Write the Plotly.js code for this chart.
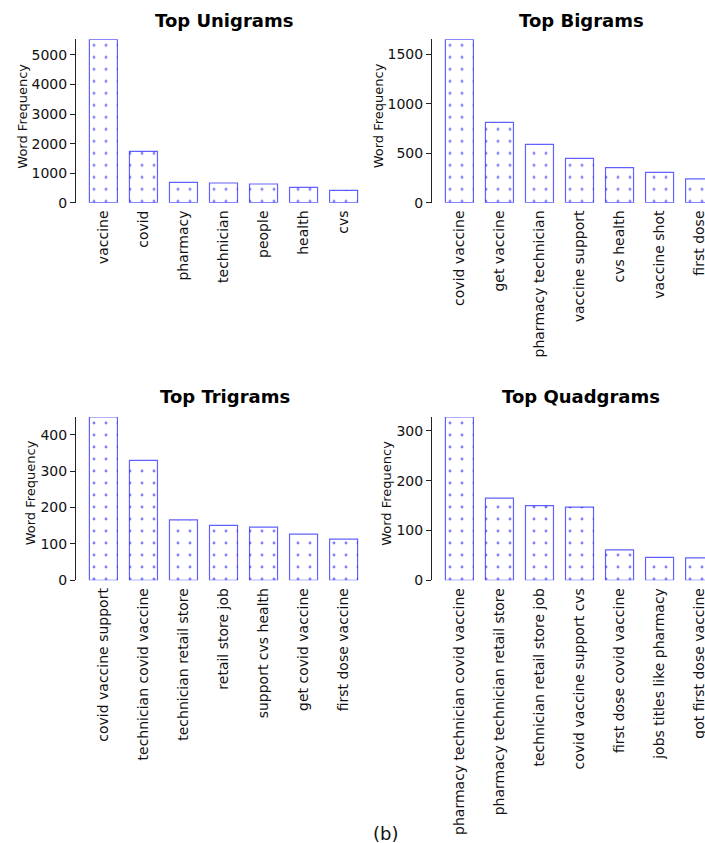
<!DOCTYPE html>
<html>
<head>
<meta charset="utf-8">
<script src="https://cdn.plot.ly/plotly-3.0.1.min.js"></script>
<style>html,body{margin:0;padding:0;overflow:hidden;background:#fff;}#chart{width:705px;height:843px;}</style>
</head>
<body>
<div id="chart"></div>
<script>
// ---- data ----
const uniLabels = ['vaccine','covid','pharmacy','technician','people','health','cvs'];
const uniValues = [5531,1740,690,667,633,521,420];
const biLabels = ['covid vaccine','get vaccine','pharmacy technician','vaccine support','cvs health','vaccine shot','first dose'];
const biValues = [1652,813,590,449,354,307,240];
const triLabels = ['covid vaccine support','technician covid vaccine','technician retail store','retail store job','support cvs health','get covid vaccine','first dose vaccine'];
const triValues = [449,330,166,151,146,127,113];
const quadLabels = ['pharmacy technician covid vaccine','pharmacy technician retail store','technician retail store job','covid vaccine support cvs','first dose covid vaccine','jobs titles like pharmacy','got first dose vaccine'];
const quadValues = [328,165,150,147,61,46,45];
const titles = ['Top Unigrams','Top Bigrams','Top Trigrams','Top Quadgrams'];
const yLabel = 'Word Frequency';
const caption = '(b)';

// ---- styling ----
const W = 705, H = 843;
const FONT = 'DejaVu Sans';
const edge = 'rgba(0,0,255,0.62)';
function barTrace(x, y, xa, ya) {
  return {
    type: 'bar', x: x, y: y, xaxis: xa, yaxis: ya, width: 0.7,
    marker: {
      color: 'white',
      line: {color: edge, width: 1.2},
      pattern: {shape: '.', size: 12, solidity: 0.045, fgcolor: 'rgba(40,40,255,0.6)', bgcolor: 'white', fillmode: 'replace'}
    },
    hoverinfo: 'x+y', showlegend: false
  };
}
const data = [
  barTrace(uniLabels, uniValues, 'x', 'y'),
  barTrace(biLabels, biValues, 'x2', 'y2'),
  barTrace(triLabels, triValues, 'x3', 'y3'),
  barTrace(quadLabels, quadValues, 'x4', 'y4')
];
const pxX = v => v / W;
const pxY = v => 1 - v / H;
const leftDom = [pxX(76), pxX(371)];
const rightDom = [pxX(432), 1];
const topDom = [pxY(202.7), pxY(39.3)];
const botDom = [pxY(580.3), pxY(417)];
const unitPx = (371 - 76) / 7.37;
const fullRange = [-0.685, 6.685];
const rightRange = [-0.685, -0.685 + (705 - 432) / unitPx];

function xax(dom, rng, anchor) {
  return {domain: dom, range: rng, anchor: anchor, type: 'category', showline: false, showgrid: false,
    zeroline: false, ticks: '', tickangle: -90, automargin: false,
    tickfont: {family: FONT, size: 14, color: '#111'}, ticklabelstandoff: 4, fixedrange: true};
}
function yax(dom, maxV, dt, anchor) {
  return {domain: dom, range: [0, maxV], anchor: anchor, showline: true, linecolor: '#222', linewidth: 1,
    showgrid: false, zeroline: false, ticks: 'outside', ticklen: 5, tickwidth: 1, tickcolor: '#222',
    dtick: dt, tick0: 0, automargin: false, tickfont: {family: FONT, size: 14, color: '#111'}, fixedrange: true};
}
function titleAnn(text, xc, yc) {
  return {text: text, xref: 'paper', yref: 'paper', x: xc, y: yc, xanchor: 'center', yanchor: 'middle',
    showarrow: false, font: {family: FONT, size: 18, color: '#000', weight: 'bold'}};
}
function yLabAnn(xc, yc) {
  return {text: yLabel, xref: 'paper', yref: 'paper', x: xc, y: yc, xanchor: 'center', yanchor: 'middle',
    textangle: -90, showarrow: false, font: {family: FONT, size: 13, color: '#111'}};
}
const layout = {
  width: W, height: H, margin: {l: 0, r: 0, t: 0, b: 0}, paper_bgcolor: 'white', plot_bgcolor: 'rgba(0,0,0,0)',
  font: {family: FONT}, bargap: 0.3,
  xaxis: xax(leftDom, fullRange, 'y'),
  yaxis: yax(topDom, Math.max(...uniValues), 1000, 'x'),
  xaxis2: xax(rightDom, rightRange, 'y2'),
  yaxis2: yax(topDom, Math.max(...biValues), 500, 'x2'),
  xaxis3: xax(leftDom, fullRange, 'y3'),
  yaxis3: yax(botDom, Math.max(...triValues), 100, 'x3'),
  xaxis4: xax(rightDom, rightRange, 'y4'),
  yaxis4: yax(botDom, Math.max(...quadValues), 100, 'x4'),
  annotations: [
    titleAnn(titles[0], pxX(224), pxY(20)),
    titleAnn(titles[1], pxX(581), pxY(20)),
    titleAnn(titles[2], pxX(225), pxY(397)),
    titleAnn(titles[3], pxX(581), pxY(397)),
    yLabAnn(pxX(21.7), pxY(116)),
    yLabAnn(pxX(378.3), pxY(116)),
    yLabAnn(pxX(30), pxY(493.3)),
    yLabAnn(pxX(386.5), pxY(493.3)),
    {text: caption, xref: 'paper', yref: 'paper', x: pxX(385), y: pxY(833), xanchor: 'center', yanchor: 'middle',
     showarrow: false, font: {family: FONT, size: 18, color: '#111'}}
  ]
};
Plotly.newPlot('chart', data, layout, {displayModeBar: false, staticPlot: true});
</script>
</body>
</html>
